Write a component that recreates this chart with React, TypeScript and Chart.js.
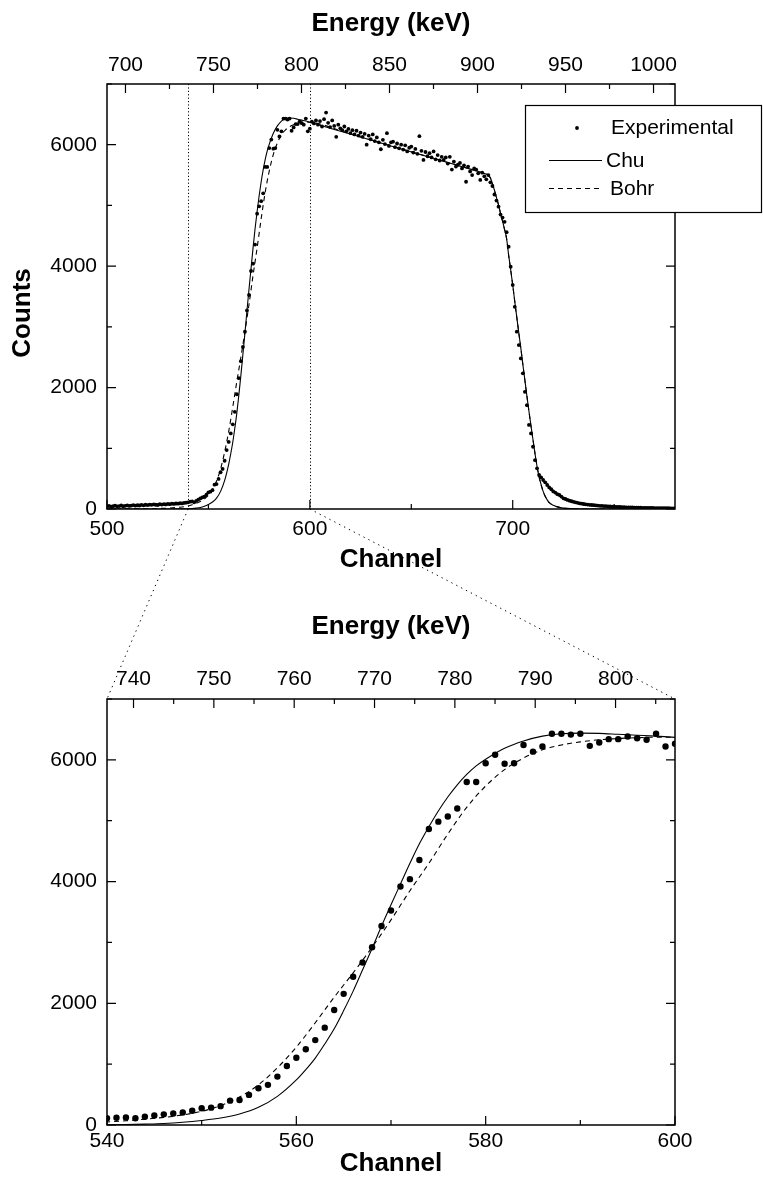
import React, { useEffect, useRef } from 'react';
import { Chart, registerables } from 'chart.js';

Chart.register(...registerables);

// ---------- data ----------
const EXP_START_CHANNEL = 500;
// experimental counts, one per channel from 500 to 780
const expCounts = [
  42, 50, 38, 47, 55, 44, 49, 58, 45, 52,
  60, 51, 57, 64, 55, 62, 58, 67, 61, 70,
  64, 72, 68, 75, 70, 66, 78, 73, 80, 76,
  84, 79, 88, 83, 91, 87, 95, 92, 100, 104,
  110, 120, 125, 110, 135, 155, 175, 190, 205, 235,
  275, 285, 310, 400, 410, 495, 605, 660, 795, 970,
  1105, 1245, 1395, 1600, 1890, 2155, 2435, 2670, 2920, 3270,
  3525, 3920, 4040, 4355, 4865, 4985, 5070, 5200, 5635, 5635,
  5945, 6085, 5935, 5945, 6245, 6135, 6220, 6430, 6430, 6415,
  6430, 6230, 6285, 6340, 6340, 6385, 6355, 6330, 6430, 6220,
  6265, 6380, 6350, 6400, 6330, 6390, 6300, 6420, 6530, 6360,
  6290, 6400, 6310, 6130, 6330, 6270, 6240, 6300, 6220, 6260,
  6190, 6240, 6170, 6230, 6150, 6200, 6130, 6180, 6000, 6150,
  6090, 6170, 6060, 6120, 6040, 5925, 6080, 6010, 6190, 5980,
  6040, 6050, 5960, 6020, 5940, 6000, 5920, 5990, 5890, 5950,
  5970, 5870, 5930, 5850, 6140, 5900, 5750, 5880, 5810, 5860,
  5790, 5890, 5760, 5830, 5740, 5800, 5750, 5790, 5690, 5800,
  5590, 5720, 5640, 5670, 5700, 5610, 5660, 5390, 5640, 5560,
  5500, 5610, 5590, 5530, 5420, 5540, 5480, 5430, 5500, 5380,
  5320, 5180, 5080, 4980, 4850, 4800, 4730, 4560, 4320, 3990,
  3690, 3330, 2920, 2700, 2480, 2235, 1930, 1710, 1385, 1245,
  1025, 805, 670, 560, 520, 478, 440, 395, 355, 325,
  290, 270, 245, 231, 205, 176, 165, 150, 137, 128,
  118, 110, 101, 94, 88, 82, 77, 73, 69, 66,
  63, 59, 57, 53, 51, 48, 46, 44, 41, 40,
  38, 36, 34, 33, 31, 30, 28, 27, 26, 25,
  24, 23, 22, 21, 20, 20, 19, 18, 17, 17,
  16, 15, 15, 14, 13, 13, 12, 12, 11, 11,
  10,
];

const chuChannels = [
  500, 530, 536,
  540, 542, 544, 546, 548, 550, 552, 554, 556, 558,
  560, 561, 562, 563, 564, 565, 566, 567, 568, 569, 570, 571, 572, 573, 574, 575, 576, 577, 578, 579, 580,
  582, 584, 586, 588, 590, 592, 594, 596, 598, 600,
  620, 640, 660, 680,
  684, 686, 688,
  689, 690, 691, 692, 693, 694, 695, 696, 697, 698, 699, 700, 701, 702, 703, 704, 705, 706, 707, 708, 709, 710, 711, 712, 713, 714, 715, 716, 717, 718,
  720, 722, 725, 730, 740, 780,
];
const chuCounts = [
  0, 0, 2,
  5, 8, 15, 25, 45, 75, 115, 180, 290, 470,
  740, 910, 1100, 1330, 1580, 1880, 2200, 2550, 2900, 3270, 3620, 3960, 4300, 4620, 4900, 5160, 5390, 5590, 5760, 5900, 6010,
  6190, 6310, 6390, 6430, 6440, 6435, 6420, 6405, 6390, 6370,
  6175, 5980, 5785, 5590,
  5550, 5525, 5500,
  5450, 5360, 5250, 5130, 5010, 4870, 4740, 4600, 4450, 4180, 3940, 3690, 3420, 3160, 2900, 2650, 2380, 2120, 1860, 1610, 1370, 1140, 910, 700, 530, 400, 290, 210, 150, 105,
  60, 35, 15, 4, 0, 0,
];

const bohrChannels = [
  500, 520, 530, 536,
  540, 542, 544, 546, 548, 550, 552, 554, 556, 558, 560, 562, 564, 566, 568, 570,
  572, 574, 576, 578, 580, 582, 584, 586, 588, 590, 592, 594, 596, 598, 600,
  620, 640, 660, 680,
  684, 686, 688,
  689, 690, 691, 692, 693, 694, 695, 696, 697, 698, 699, 700, 701, 702, 703, 704, 705, 706, 707, 708, 709, 710, 711, 712, 713, 714, 715, 716, 717, 718,
  720, 722, 725, 730, 740, 780,
];
const bohrCounts = [
  0, 5, 15, 30,
  50, 70, 95, 125, 165, 225, 320, 460, 660, 940, 1280, 1680, 2100, 2500, 2920, 3370,
  3850, 4300, 4780, 5220, 5570, 5840, 6030, 6165, 6245, 6295, 6330, 6350, 6365, 6372, 6370,
  6175, 5980, 5785, 5590,
  5550, 5525, 5500,
  5450, 5360, 5250, 5130, 5010, 4870, 4740, 4600, 4450, 4180, 3940, 3690, 3420, 3160, 2900, 2650, 2380, 2120, 1860, 1610, 1370, 1140, 910, 700, 530, 400, 290, 210, 150, 105,
  60, 35, 15, 4, 0, 0,
];

// axis ranges
const overviewChannelRange = [500, 780];
const overviewEnergyRange = [689.5, 1012.2];
const zoomChannelRange = [540, 600];
const zoomEnergyRange = [736.7, 807.4];
const countsRange = [0, 7000];
const zoomGuideChannels = [540, 600];

const legendLabels = ['Experimental', 'Chu', 'Bohr'];
const energyTitle = 'Energy (keV)';
const channelTitle = 'Channel';
const countsTitle = 'Counts';

// ---------- helpers ----------
const FONT_FAMILY = "'Liberation Sans', Arial, Helvetica, sans-serif";

function isMajor(v: number, every: number) {
  const r = v / every;
  return Math.abs(r - Math.round(r)) < 1e-6;
}

const expPoints = expCounts.map((y, i) => ({ x: EXP_START_CHANNEL + i, y }));
const chuPoints = chuChannels.map((x, i) => ({ x, y: chuCounts[i] }));
const bohrPoints = bohrChannels.map((x, i) => ({ x, y: bohrCounts[i] }));

function makeDatasets(pointRadius: number) {
  return [
    {
      label: legendLabels[0],
      data: expPoints,
      showLine: false,
      pointRadius,
      pointBackgroundColor: '#000',
      pointBorderColor: '#000',
      pointBorderWidth: 0,
      xAxisID: 'x',
      yAxisID: 'y',
    },
    {
      label: legendLabels[1],
      data: chuPoints,
      showLine: true,
      pointRadius: 0,
      borderColor: '#000',
      borderWidth: 1.1,
      cubicInterpolationMode: 'monotone',
      xAxisID: 'x',
      yAxisID: 'y',
    },
    {
      label: legendLabels[2],
      data: bohrPoints,
      showLine: true,
      pointRadius: 0,
      borderColor: '#000',
      borderWidth: 1.1,
      borderDash: [5, 4],
      cubicInterpolationMode: 'monotone',
      xAxisID: 'x',
      yAxisID: 'y',
    },
  ];
}

function tickFont() {
  return { size: 21, family: FONT_FAMILY };
}
function titleFont() {
  return { size: 26, weight: 'bold' as const, family: FONT_FAMILY };
}

function hAxis(o: {
  position: 'top' | 'bottom';
  range: number[];
  step: number;
  major: number;
  padding: number;
  title: string;
  titlePad: { top: number; bottom: number };
  height: number;
}) {
  return {
    type: 'linear',
    position: o.position,
    min: o.range[0],
    max: o.range[1],
    grid: { display: false, drawTicks: false },
    border: { display: false },
    ticks: {
      stepSize: o.step,
      includeBounds: false,
      autoSkip: false,
      maxRotation: 0,
      minRotation: 0,
      maxTicksLimit: 200,
      padding: o.padding,
      color: '#000',
      font: tickFont(),
      callback: (v: number) => (isMajor(v, o.major) ? String(v) : ''),
    },
    title: {
      display: true,
      text: o.title,
      color: '#000',
      font: titleFont(),
      padding: o.titlePad,
    },
    afterFit: (s: any) => {
      s.height = o.height;
    },
  };
}

function vAxis() {
  return {
    type: 'linear',
    position: 'left',
    min: countsRange[0],
    max: countsRange[1],
    grid: { display: false, drawTicks: false },
    border: { display: false },
    ticks: {
      stepSize: 1000,
      includeBounds: false,
      autoSkip: false,
      maxTicksLimit: 200,
      padding: 10,
      color: '#000',
      font: tickFont(),
      callback: (v: number) => (isMajor(v, 2000) ? String(v) : ''),
    },
    afterFit: (s: any) => {
      s.width = 107;
    },
  };
}

type DecorOpts = {
  majors: { x: number; x2: number; y: number };
  guides?: number[];
  legend?: boolean;
  yTitle?: boolean;
  getLinked?: () => { chart: Chart; offset: number } | null;
};

function makeDecor(opts: DecorOpts) {
  return {
    id: 'decor',
    beforeDatasetsDraw(chart: any) {
      if (!opts.guides) return;
      const { ctx, chartArea: a } = chart;
      const xs = chart.scales.x;
      ctx.save();
      ctx.strokeStyle = '#000';
      ctx.lineWidth = 1;
      ctx.setLineDash([1.2, 2.2]);
      for (const g of opts.guides) {
        const px = Math.round(xs.getPixelForValue(g)) + 0.5;
        ctx.beginPath();
        ctx.moveTo(px, a.top);
        ctx.lineTo(px, a.bottom);
        ctx.stroke();
      }
      ctx.restore();
    },
    afterDraw(chart: any) {
      const { ctx, chartArea: a } = chart;
      ctx.save();
      ctx.strokeStyle = '#000';
      ctx.fillStyle = '#000';

      // inward tick marks
      ctx.lineWidth = 1.2;
      ctx.beginPath();
      const eachTick = (scale: any, every: number, fn: (p: number, l: number) => void) => {
        for (const t of scale.ticks) {
          fn(scale.getPixelForValue(t.value), isMajor(t.value, every) ? 9 : 5);
        }
      };
      eachTick(chart.scales.x, opts.majors.x, (p, l) => {
        ctx.moveTo(p, a.bottom);
        ctx.lineTo(p, a.bottom - l);
      });
      eachTick(chart.scales.x2, opts.majors.x2, (p, l) => {
        ctx.moveTo(p, a.top);
        ctx.lineTo(p, a.top + l);
      });
      eachTick(chart.scales.y, opts.majors.y, (p, l) => {
        ctx.moveTo(a.left, p);
        ctx.lineTo(a.left + l, p);
        ctx.moveTo(a.right, p);
        ctx.lineTo(a.right - l, p);
      });
      ctx.stroke();

      // frame
      ctx.lineWidth = 1.5;
      ctx.strokeRect(a.left, a.top, a.right - a.left, a.bottom - a.top);

      // y title
      if (opts.yTitle) {
        ctx.save();
        ctx.translate(23, 313);
        ctx.rotate(-Math.PI / 2);
        ctx.font = `bold 26px ${FONT_FAMILY}`;
        ctx.textAlign = 'center';
        ctx.textBaseline = 'middle';
        ctx.fillText(countsTitle, 0, 0);
        ctx.restore();
      }

      // legend
      if (opts.legend) {
        const bx = 525, by = 105, bw = 237, bh = 108;
        ctx.fillStyle = '#fff';
        ctx.fillRect(bx, by, bw, bh);
        ctx.lineWidth = 1.2;
        ctx.strokeStyle = '#000';
        ctx.strokeRect(bx + 0.5, by + 0.5, bw - 1, bh - 1);
        ctx.fillStyle = '#000';
        ctx.font = `21px ${FONT_FAMILY}`;
        ctx.textAlign = 'left';
        ctx.textBaseline = 'middle';
        // Experimental
        ctx.beginPath();
        ctx.arc(577, 128, 1.9, 0, Math.PI * 2);
        ctx.fill();
        ctx.fillText(legendLabels[0], 611, 128);
        // Chu
        ctx.lineWidth = 1.1;
        ctx.beginPath();
        ctx.moveTo(549, 160.5);
        ctx.lineTo(602, 160.5);
        ctx.stroke();
        ctx.fillText(legendLabels[1], 606, 161);
        // Bohr
        ctx.setLineDash([5, 4]);
        ctx.beginPath();
        ctx.moveTo(549, 188.5);
        ctx.lineTo(602, 188.5);
        ctx.stroke();
        ctx.setLineDash([]);
        ctx.fillText(legendLabels[2], 610, 189);
      }

      // connecting zoom lines
      if (opts.getLinked) {
        const linked = opts.getLinked();
        if (linked) {
          const lc = linked.chart as any;
          const y0 = lc.chartArea.bottom + linked.offset;
          const xl = lc.scales.x.getPixelForValue(zoomGuideChannels[0]);
          const xr = lc.scales.x.getPixelForValue(zoomGuideChannels[1]);
          ctx.lineWidth = 1;
          ctx.setLineDash([1.3, 4.2]);
          ctx.beginPath();
          ctx.moveTo(xl, y0);
          ctx.lineTo(a.left, a.top);
          ctx.moveTo(xr, y0);
          ctx.lineTo(a.right, a.top);
          ctx.stroke();
          ctx.setLineDash([]);
        }
      }
      ctx.restore();
    },
  };
}

const TOP_CANVAS_TOP = 0;
const TOP_CANVAS_H = 600;
const BOTTOM_CANVAS_TOP = 500;
const BOTTOM_CANVAS_H = 686;

export default function App() {
  const topRef = useRef<HTMLCanvasElement>(null);
  const bottomRef = useRef<HTMLCanvasElement>(null);

  useEffect(() => {
    const common = {
      responsive: false,
      animation: false,
      events: [],
      plugins: { legend: { display: false }, tooltip: { enabled: false } },
    };

    const top = new Chart(topRef.current as HTMLCanvasElement, {
      type: 'scatter',
      data: { datasets: makeDatasets(1.9) as any },
      options: {
        ...common,
        layout: { padding: { left: 0, right: 88, top: 0, bottom: 0 } },
        scales: {
          x: hAxis({
            position: 'bottom',
            range: overviewChannelRange,
            step: 50,
            major: 100,
            padding: 8,
            title: channelTitle,
            titlePad: { top: 0, bottom: 25 },
            height: 91,
          }),
          x2: hAxis({
            position: 'top',
            range: overviewEnergyRange,
            step: 25,
            major: 50,
            padding: 6.5,
            title: energyTitle,
            titlePad: { top: 8, bottom: 0 },
            height: 84,
          }),
          y: vAxis(),
        },
      } as any,
      plugins: [
        makeDecor({
          majors: { x: 100, x2: 50, y: 2000 },
          guides: zoomGuideChannels,
          legend: true,
          yTitle: true,
        }) as any,
      ],
    });

    const bottom = new Chart(bottomRef.current as HTMLCanvasElement, {
      type: 'scatter',
      data: { datasets: makeDatasets(3.2) as any },
      options: {
        ...common,
        layout: { padding: { left: 0, right: 88, top: 100, bottom: 0 } },
        scales: {
          x: hAxis({
            position: 'bottom',
            range: zoomChannelRange,
            step: 10,
            major: 20,
            padding: 4,
            title: channelTitle,
            titlePad: { top: 0, bottom: 7 },
            height: 61,
          }),
          x2: hAxis({
            position: 'top',
            range: zoomEnergyRange,
            step: 5,
            major: 10,
            padding: 7.5,
            title: energyTitle,
            titlePad: { top: 11.5, bottom: 0 },
            height: 99,
          }),
          y: vAxis(),
        },
      } as any,
      plugins: [
        makeDecor({
          majors: { x: 20, x2: 10, y: 2000 },
          getLinked: () => ({ chart: top, offset: TOP_CANVAS_TOP - BOTTOM_CANVAS_TOP }),
        }) as any,
      ],
    });

    return () => {
      bottom.destroy();
      top.destroy();
    };
  }, []);

  return (
    <div
      style={{
        position: 'absolute',
        left: 0,
        top: 0,
        width: 763,
        height: 1186,
        background: '#fff',
        overflow: 'hidden',
      }}
    >
      <canvas
        ref={topRef}
        width={763}
        height={TOP_CANVAS_H}
        style={{ position: 'absolute', left: 0, top: TOP_CANVAS_TOP, width: 763, height: TOP_CANVAS_H }}
      />
      <canvas
        ref={bottomRef}
        width={763}
        height={BOTTOM_CANVAS_H}
        style={{ position: 'absolute', left: 0, top: BOTTOM_CANVAS_TOP, width: 763, height: BOTTOM_CANVAS_H }}
      />
    </div>
  );
}
